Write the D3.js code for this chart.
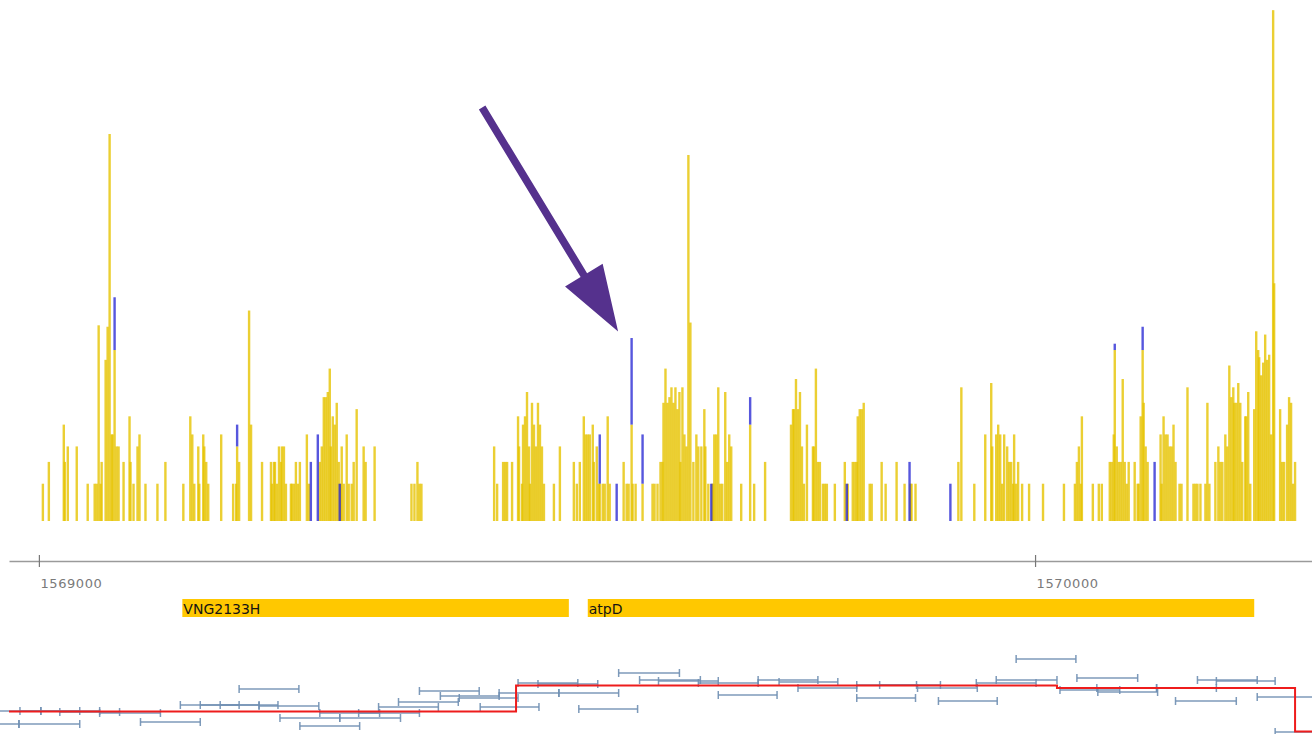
<!DOCTYPE html>
<html>
<head>
<meta charset="utf-8">
<script src="https://cdn.jsdelivr.net/npm/d3@7"></script>
<style>
  html, body { margin: 0; padding: 0; background: #ffffff; }
  svg { display: block; }
</style>
</head>
<body>
<svg id="chart" width="1312" height="734"></svg>
<script>
// Read coverage per genomic position, [position, read count]
const plusStrandReads = [
  [1569004,1],[1569010,2],[1569025,5],[1569026,2],[1569029,3],[1569038,3],[1569049,1],[1569056,1],[1569058,1],[1569060,37],
  [1569062,1],[1569063,2],[1569067,19],[1569069,36],[1569071,1330],[1569073,4],[1569074,4],[1569076,23],[1569078,3],[1569080,3],
  [1569085,2],[1569091,6],[1569092,2],[1569095,1],[1569099,3],[1569101,4],[1569107,1],[1569119,1],[1569127,2],[1569145,1],
  [1569152,6],[1569154,4],[1569156,1],[1569160,3],[1569161,1],[1569165,4],[1569166,3],[1569168,2],[1569170,1],[1569183,4],
  [1569195,1],[1569198,1],[1569199,3],[1569201,2],[1569211,49],[1569213,5],[1569224,2],[1569233,2],[1569234,1],[1569236,2],
  [1569237,2],[1569239,1],[1569241,3],[1569243,2],[1569244,3],[1569246,3],[1569248,1],[1569253,1],[1569254,1],[1569256,1],
  [1569258,2],[1569260,1],[1569262,2],[1569269,4],[1569271,1],[1569282,2],[1569284,3],[1569286,9],[1569288,9],[1569290,10],
  [1569292,16],[1569293,3],[1569295,6],[1569297,5],[1569299,8],[1569301,2],[1569303,1],[1569304,3],[1569306,1],[1569309,4],
  [1569311,1],[1569314,1],[1569316,2],[1569319,7],[1569326,3],[1569328,2],[1569337,3],[1569374,1],[1569377,1],[1569380,2],
  [1569382,1],[1569384,1],[1569457,3],[1569460,1],[1569466,2],[1569468,2],[1569470,2],[1569475,2],[1569481,6],[1569482,3],
  [1569485,1],[1569486,5],[1569488,6],[1569490,10],[1569492,3],[1569493,1],[1569495,8],[1569497,5],[1569499,3],[1569501,8],
  [1569503,5],[1569505,3],[1569507,1],[1569517,1],[1569523,3],[1569537,2],[1569540,1],[1569543,2],[1569547,6],[1569549,4],
  [1569551,4],[1569553,4],[1569556,5],[1569557,2],[1569560,3],[1569562,1],[1569563,1],[1569566,1],[1569568,1],[1569571,6],
  [1569573,1],[1569587,2],[1569590,1],[1569592,1],[1569595,5],[1569596,1],[1569599,1],[1569606,1],[1569616,1],[1569618,1],
  [1569621,1],[1569624,2],[1569626,2],[1569627,8],[1569629,16],[1569631,8],[1569633,9],[1569635,11],[1569637,8],[1569639,11],
  [1569641,7],[1569643,10],[1569644,2],[1569646,11],[1569648,4],[1569650,3],[1569652,900],[1569654,39],[1569657,2],[1569660,4],
  [1569662,3],[1569665,3],[1569668,7],[1569669,3],[1569672,1],[1569676,1],[1569677,1],[1569678,4],[1569680,4],[1569682,11],
  [1569684,1],[1569686,1],[1569689,10],[1569691,2],[1569693,4],[1569695,3],[1569705,1],[1569714,5],[1569718,1],[1569729,2],
  [1569755,5],[1569757,7],[1569758,7],[1569760,13],[1569762,7],[1569764,10],[1569766,3],[1569768,1],[1569771,5],[1569777,3],
  [1569778,3],[1569780,16],[1569782,2],[1569784,2],[1569787,1],[1569789,1],[1569791,1],[1569799,1],[1569809,2],[1569812,1],
  [1569817,2],[1569819,2],[1569821,2],[1569822,6],[1569824,7],[1569826,7],[1569828,8],[1569834,1],[1569836,1],[1569846,2],
  [1569850,1],[1569861,2],[1569869,1],[1569875,1],[1569876,1],[1569880,1],[1569923,2],[1569926,11],[1569939,1],[1569950,4],
  [1569956,12],[1569957,3],[1569961,4],[1569963,5],[1569965,4],[1569967,1],[1569969,4],[1569972,3],[1569974,2],[1569976,2],
  [1569978,1],[1569979,4],[1569981,1],[1569983,2],[1569987,1],[1569994,1],[1570008,1],[1570029,1],[1570040,1],[1570042,2],
  [1570044,3],[1570046,1],[1570047,6],[1570058,1],[1570064,1],[1570067,1],[1570075,2],[1570077,2],[1570079,4],[1570080,23],
  [1570082,3],[1570084,2],[1570086,2],[1570088,13],[1570090,2],[1570092,1],[1570094,2],[1570100,2],[1570103,1],[1570104,1],
  [1570106,6],[1570108,23],[1570109,8],[1570111,3],[1570113,2],[1570126,4],[1570127,1],[1570129,6],[1570131,4],[1570133,4],
  [1570135,3],[1570137,3],[1570139,5],[1570141,2],[1570145,1],[1570147,1],[1570153,11],[1570159,1],[1570161,1],[1570163,1],
  [1570166,1],[1570171,1],[1570173,8],[1570175,1],[1570181,2],[1570184,3],[1570186,2],[1570188,2],[1570191,4],[1570193,3],
  [1570195,17],[1570197,9],[1570199,11],[1570200,8],[1570202,8],[1570204,12],[1570206,8],[1570208,2],[1570211,6],[1570212,6],
  [1570214,10],[1570216,1],[1570220,7],[1570222,33],[1570224,23],[1570225,20],[1570227,14],[1570229,18],[1570231,31],[1570233,19],
  [1570235,21],[1570237,4],[1570239,13300],[1570240,82],[1570246,7],[1570248,2],[1570250,2],[1570253,5],[1570255,9],[1570257,8],
  [1570259,1],[1570261,2]
];

const minusStrandReads = [
  [1569076,63],[1569199,5],[1569273,2],[1569280,4],[1569302,1],[1569563,4],[1569580,1],[1569595,29],[1569606,4],
  [1569675,1],[1569714,9],[1569811,1],[1569874,2],[1569915,1],[1570080,26],[1570108,36],[1570120,2]
];

// Annotated genes
const geneNames  = ["VNG2133H", "atpD"];
const geneStarts = [1569144, 1569551];
const geneEnds   = [1569532, 1570220];

// Axis ticks
const axisTicks = [1569000, 1570000];

// Tiling probe intervals: [start, end, level]
const probeSegments = [
  [1568942,1569002,29],[1568981,1569041,29],[1569002,1569061,29],[1569021,1569081,28],[1569061,1569122,27],
  [1568920,1568980,16],[1568980,1569041,16],[1569102,1569162,18],
  [1569142,1569201,35],[1569162,1569221,35],[1569182,1569240,35],[1569221,1569281,34],[1569201,1569261,51],
  [1569242,1569302,22],[1569302,1569363,22],[1569262,1569322,14],[1569282,1569342,27],[1569321,1569382,27],
  [1569341,1569401,33],[1569361,1569421,38],[1569382,1569442,49],[1569403,1569462,44],[1569422,1569481,42],
  [1569443,1569502,33],[1569462,1569522,47],[1569522,1569582,47],[1569481,1569541,57],[1569501,1569561,56],
  [1569542,1569601,31],[1569582,1569643,67],[1569603,1569664,60],[1569622,1569682,59],[1569682,1569741,45],
  [1569662,1569722,57],[1569722,1569782,60],[1569743,1569802,58],[1569762,1569821,52],[1569821,1569880,42],
  [1569821,1569881,55],[1569844,1569905,55],[1569882,1569942,52],[1569903,1569962,39],[1569961,1570022,60],
  [1569941,1570001,57],[1569981,1570041,81],[1570042,1570103,62],[1570025,1570085,50],[1570062,1570122,52],
  [1570063,1570123,48],[1570122,1570182,52],[1570141,1570202,39],[1570163,1570223,60],[1570182,1570241,59],
  [1570223,1570283,43],[1570241,1570301,8]
];

// Segmented level across the window: breakpoints and the level of each piece
const stepBreaks = [1568970, 1569479, 1570022, 1570261, 1570278];
const stepLevels = [28.5, 54.5, 52, 8.5];

const svg = d3.select("#chart");

const x = d3.scaleLinear().domain([1568970, 1570278]).range([9, 1312]);
const baseline = 521;
const yCov = d3.scaleSymlog().constant(1).domain([0, 10000]).range([baseline, 25.5]);
const yLow = d3.scaleLinear().domain([0, 100]).range([740, 640]);

const barW = 2.4;
const plusAt = new Map(plusStrandReads.map(d => [d[0], d[1]]));

// Plus-strand coverage
svg.append("g").selectAll("rect")
  .data(plusStrandReads)
  .join("rect")
  .attr("x", d => x(d[0]) - barW / 2)
  .attr("y", d => yCov(d[1]))
  .attr("width", barW)
  .attr("height", d => baseline - yCov(d[1]))
  .attr("fill", "#e6c300")
  .attr("fill-opacity", 0.8);

// Minus-strand coverage, shown where it rises above the plus strand
svg.append("g").selectAll("rect")
  .data(minusStrandReads)
  .join("rect")
  .attr("x", d => x(d[0]) - barW / 2)
  .attr("y", d => yCov(d[1]))
  .attr("width", barW)
  .attr("height", d => Math.max(0, yCov(Math.min(plusAt.get(d[0]) || 0, d[1])) - yCov(d[1])))
  .attr("fill", "#1f1fd2")
  .attr("fill-opacity", 0.75);

// Coordinate axis
const axis = d3.axisBottom(x)
  .tickValues(axisTicks)
  .tickFormat(d3.format("d"))
  .tickSize(6)
  .tickSizeOuter(0);

const gAxis = svg.append("g")
  .attr("transform", "translate(0,561)")
  .call(axis);
gAxis.select(".domain").attr("stroke", "#9a9a9a").attr("stroke-width", 1.6);
gAxis.selectAll(".tick line").attr("y1", -6).attr("y2", 6).attr("stroke", "#777").attr("stroke-width", 1.2);
gAxis.selectAll(".tick text")
  .attr("x", 1)
  .attr("y", 27)
  .attr("dy", 0)
  .attr("text-anchor", "start")
  .attr("fill", "#7a7a7a")
  .style("font-family", "'DejaVu Sans', sans-serif")
  .style("font-size", "13px")
  .style("letter-spacing", "0.6px");

// Gene track
const geneIdx = d3.range(geneNames.length);
const gGenes = svg.append("g");
gGenes.selectAll("rect")
  .data(geneIdx)
  .join("rect")
  .attr("x", i => x(geneStarts[i]))
  .attr("y", 599)
  .attr("width", i => x(geneEnds[i]) - x(geneStarts[i]))
  .attr("height", 18)
  .attr("fill", "#ffc800");
gGenes.selectAll("text")
  .data(geneIdx)
  .join("text")
  .attr("x", i => x(geneStarts[i]) + 1)
  .attr("y", 614)
  .attr("fill", "#141414")
  .style("font-family", "'DejaVu Sans', sans-serif")
  .style("font-size", "14px")
  .style("font-weight", "500")
  .text(i => geneNames[i]);

// Probe intervals with end caps
const gProbes = svg.append("g")
  .attr("stroke", "#6f8fb2")
  .attr("stroke-width", 1.5)
  .attr("stroke-opacity", 0.9);
gProbes.selectAll("line.span")
  .data(probeSegments)
  .join("line")
  .attr("class", "span")
  .attr("x1", d => x(d[0])).attr("x2", d => x(d[1]))
  .attr("y1", d => yLow(d[2])).attr("y2", d => yLow(d[2]));
gProbes.selectAll("line.capL")
  .data(probeSegments)
  .join("line")
  .attr("class", "capL")
  .attr("x1", d => x(d[0])).attr("x2", d => x(d[0]))
  .attr("y1", d => yLow(d[2]) - 4).attr("y2", d => yLow(d[2]) + 4);
gProbes.selectAll("line.capR")
  .data(probeSegments)
  .join("line")
  .attr("class", "capR")
  .attr("x1", d => x(d[1])).attr("x2", d => x(d[1]))
  .attr("y1", d => yLow(d[2]) - 4).attr("y2", d => yLow(d[2]) + 4);

// Segmented level as a step line
const stepPoints = stepLevels.map((v, i) => [stepBreaks[i], v]);
stepPoints.push([stepBreaks[stepBreaks.length - 1], stepLevels[stepLevels.length - 1]]);
svg.append("path")
  .datum(stepPoints)
  .attr("fill", "none")
  .attr("stroke", "#ee1c1c")
  .attr("stroke-width", 2)
  .attr("d", d3.line().x(d => x(d[0])).y(d => yLow(d[1])).curve(d3.curveStepAfter));

// Arrow pointing at the minus-strand peak inside atpD
const target = minusStrandReads.find(d => d[0] === 1569595);
const tipX = x(target[0]) - 13.5, tipY = yCov(target[1]) - 6.5;
const ang = Math.atan2(-224, -136);
const ux = Math.cos(ang), uy = Math.sin(ang);
const px = -uy, py = ux;
const totalLen = 262, headLen = 66, headHalf = 22, shaftHalf = 3.8;
const bx = tipX + ux * headLen, by = tipY + uy * headLen;
const ex = tipX + ux * totalLen, ey = tipY + uy * totalLen;
const arrow = d3.path();
arrow.moveTo(tipX, tipY);
arrow.lineTo(bx + px * headHalf, by + py * headHalf);
arrow.lineTo(bx + px * shaftHalf, by + py * shaftHalf);
arrow.lineTo(ex + px * shaftHalf, ey + py * shaftHalf);
arrow.lineTo(ex - px * shaftHalf, ey - py * shaftHalf);
arrow.lineTo(bx - px * shaftHalf, by - py * shaftHalf);
arrow.lineTo(bx - px * headHalf, by - py * headHalf);
arrow.closePath();
svg.append("path").attr("d", arrow.toString()).attr("fill", "#55318d");
</script>
</body>
</html>
